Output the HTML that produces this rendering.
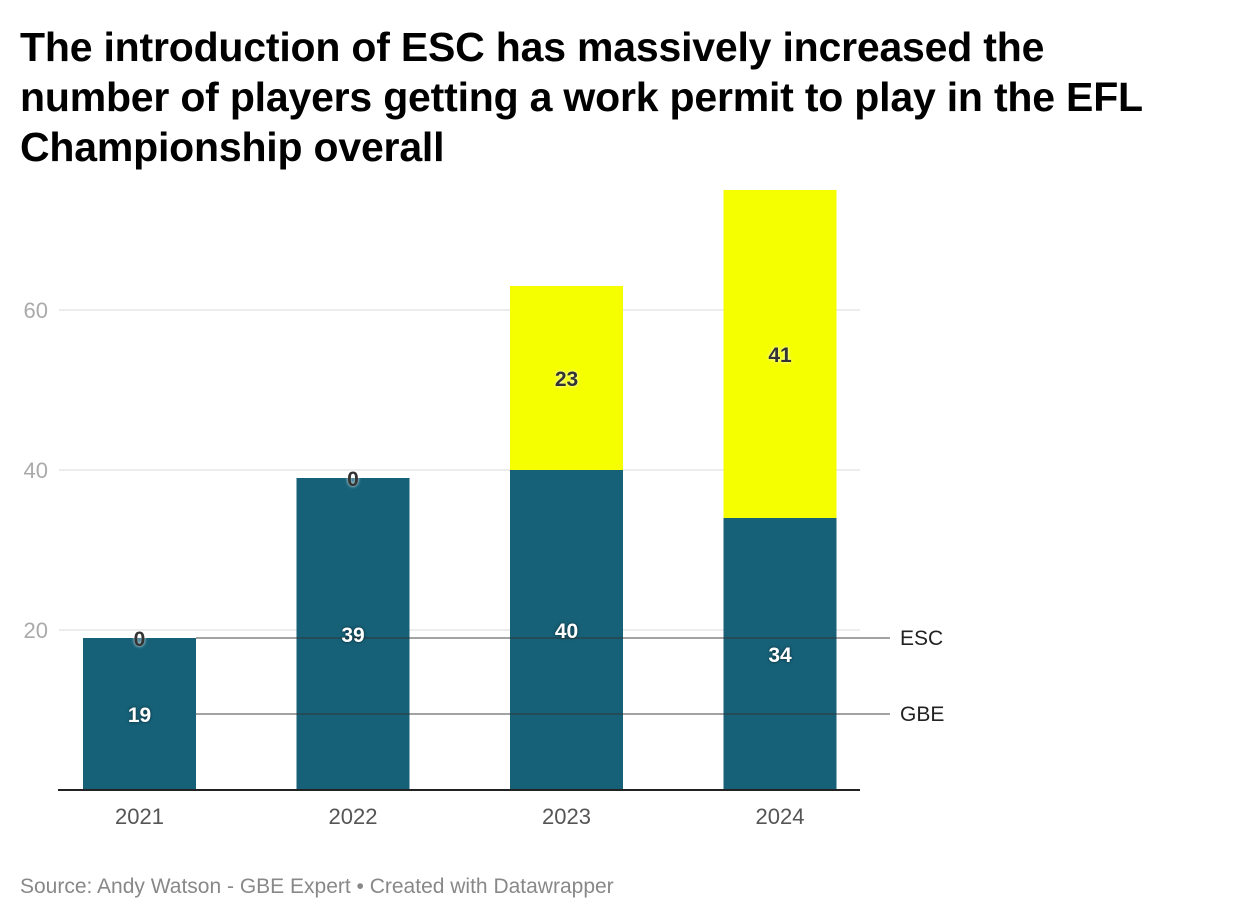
<!DOCTYPE html>
<html><head><meta charset="utf-8"><style>
body{margin:0;background:#fff;width:1240px;height:922px;overflow:hidden;font-family:"Liberation Sans",sans-serif}
h1{position:absolute;left:20px;top:22px;margin:0;font-size:41px;line-height:50px;font-weight:bold;color:#000;white-space:nowrap;letter-spacing:-0.2px}
.src{position:absolute;left:20px;top:875px;font-size:21px;color:#888}
</style></head><body>
<h1>The introduction of ESC has massively increased the<br>number of players getting a work permit to play in the EFL<br>Championship overall</h1>
<svg id="c" width="1240" height="922" style="position:absolute;left:0;top:0"></svg>
<div class="src">Source: Andy Watson - GBE Expert • Created with Datawrapper</div>
<script>
const categories=["2021","2022","2023","2024"];
const gbe=[19,39,40,34];
const esc=[0,0,23,41];
const ticks=[20,40,60];
const NS="http://www.w3.org/2000/svg";
const svg=document.getElementById('c');
const y=v=>790-v*8;
const x=i=>83+i*213.5;
const bw=113;
function mk(t,a,txt){const e=document.createElementNS(NS,t);for(const k in a)e.setAttribute(k,a[k]);if(txt!=null)e.textContent=txt;svg.appendChild(e);return e;}
ticks.forEach(t=>{
 const g=mk('line',{x1:59,x2:860,y1:y(t),y2:y(t),stroke:'#e5e5e5','stroke-width':1.5});
 
 
 const l=mk('text',{x:48,y:y(t)+8,'text-anchor':'end','font-size':22,fill:'#aaa'},t);
 
 
});
categories.forEach((c,i)=>{
 const b=mk('rect',{x:x(i),y:y(gbe[i]),width:bw,height:gbe[i]*8,fill:'#176178'});
 
 
 if(esc[i]>0){const e=mk('rect',{x:x(i),y:y(gbe[i]+esc[i]),width:bw,height:esc[i]*8,fill:'#f5ff00'});
 
 }
 const t=mk('text',{x:x(i)+bw/2,y:824,'text-anchor':'middle','font-size':22,fill:'#555'},c);
 
 
});
const base=mk('line',{x1:58,x2:860,y1:790,y2:790,stroke:'#222','stroke-width':2});


const escY=y(gbe[0]+esc[0]/2), gbeY=y(gbe[0]/2);
[[escY,'ESC'],[gbeY,'GBE']].forEach(([yy,n])=>{
 const l=mk('line',{x1:x(0)+bw,x2:890,y1:yy,y2:yy,stroke:'#333','stroke-opacity':0.6,'stroke-width':1.5});
 
 
 const t=mk('text',{x:900,y:yy+7,'font-size':21,fill:'#222'},n);
 
 
});
categories.forEach((c,i)=>{
 const g=mk('text',{x:x(i)+bw/2,y:y(gbe[i]/2)+8,'text-anchor':'middle','font-size':21,'font-weight':'bold',fill:'#fff',style:'text-shadow:0 0 3px rgba(0,0,0,0.6)'},gbe[i]);
 
 
 const e=mk('text',{x:x(i)+bw/2,y:y(gbe[i]+esc[i]/2)+8,'text-anchor':'middle','font-size':21,'font-weight':'bold',fill:'#333',style:'text-shadow:0 0 3px #fff'},esc[i]);
 
 
});
</script>
</body></html>
